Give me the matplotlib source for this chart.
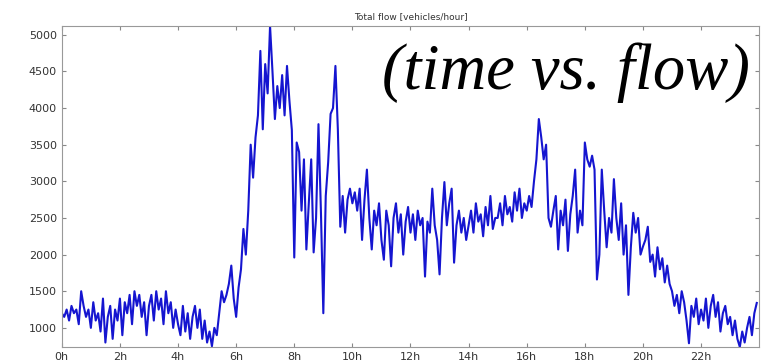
import numpy as np
import matplotlib.pyplot as plt

# flow [vehicles/hour], one row per hour, 5 min steps
flow_by_hour = [
    [1200, 1150, 1250, 1100, 1300, 1200, 1250, 1050, 1500, 1300, 1150, 1250],
    [1000, 1350, 1100, 1200, 950, 1400, 800, 1150, 1300, 850, 1250, 1100],
    [1400, 900, 1350, 1200, 1450, 1050, 1500, 1300, 1450, 1150, 1350, 900],
    [1300, 1450, 1100, 1500, 1250, 1400, 1050, 1500, 1200, 1350, 1000, 1250],
    [1050, 900, 1300, 950, 1200, 850, 1150, 1300, 1000, 1250, 850, 1100],
    [800, 950, 750, 1000, 900, 1200, 1500, 1350, 1450, 1600, 1850, 1400],
    [1150, 1550, 1800, 2350, 2000, 2600, 3500, 3050, 3600, 3900, 4780, 3710],
    [4600, 4200, 5120, 4500, 3850, 4300, 4000, 4450, 3900, 4575, 4100, 3700],
    [1960, 3530, 3400, 2600, 3300, 2070, 2700, 3300, 2030, 2500, 3780, 2600],
    [1200, 2800, 3260, 3920, 4000, 4575, 3710, 2380, 2800, 2300, 2750, 2900],
    [2700, 2850, 2600, 2900, 2200, 2750, 3160, 2500, 2070, 2600, 2400, 2700],
    [2200, 1930, 2600, 2400, 1840, 2500, 2700, 2300, 2550, 2000, 2450, 2650],
    [2300, 2550, 2200, 2600, 2400, 2500, 1700, 2450, 2300, 2900, 2400, 2200],
    [1730, 2500, 2990, 2400, 2700, 2900, 1890, 2400, 2600, 2300, 2500, 2200],
    [2400, 2600, 2300, 2700, 2450, 2550, 2250, 2650, 2400, 2800, 2350, 2500],
    [2500, 2700, 2400, 2800, 2550, 2650, 2450, 2850, 2600, 2900, 2500, 2700],
    [2600, 2800, 2650, 3000, 3300, 3850, 3600, 3300, 3500, 2500, 2380, 2600],
    [2800, 2070, 2600, 2400, 2750, 2050, 2550, 2800, 3160, 2300, 2600, 2400],
    [3530, 3300, 3200, 3350, 3160, 1660, 2000, 3160, 2600, 2100, 2500, 2300],
    [3030, 2500, 2200, 2700, 2000, 2400, 1450, 2100, 2570, 2300, 2500, 2000],
    [2110, 2200, 2380, 1900, 2000, 1700, 2100, 1800, 1950, 1620, 1850, 1600],
    [1500, 1300, 1450, 1200, 1500, 1350, 1100, 790, 1300, 1150, 1400, 1050],
    [1250, 1100, 1400, 1000, 1300, 1450, 1150, 1350, 950, 1200, 1300, 1050],
    [1150, 900, 1100, 850, 740, 950, 800, 1000, 1150, 900, 1200, 1340],
]
tick_hours = list(range(0, 24, 2))
tick_labels = [f"{h}h" for h in tick_hours]

flow = np.array(flow_by_hour).ravel()
t = np.arange(len(flow)) * 24.0 / len(flow)

fig = plt.figure(figsize=(7.63, 3.61), dpi=100)
ax = fig.add_axes([0.081, 0.039, 0.914, 0.889])
ax.plot(t, flow, color='#1515d0', linewidth=1.5)

ax.set_xlim(0, 24)
ax.set_ylim(flow.min(), flow.max())
ax.set_xticks(tick_hours)
ax.set_xticklabels(tick_labels)
ax.set_yticks(range(1000, 5001, 500))
ax.tick_params(direction='in', top=True, right=True, labelsize=8,
               colors='#888888', labelcolor='#333333', length=3)
for s in ax.spines.values():
    s.set_color('#999999')

ax.set_title("Total flow [vehicles/hour]", fontsize=6.5, color='#333333', pad=5)

fig.text(0.500, 0.753, "(time vs. flow)", family='Liberation Serif',
         style='italic', fontsize=46.5, va='baseline', ha='left')

fig.savefig("out.png", dpi=100)
